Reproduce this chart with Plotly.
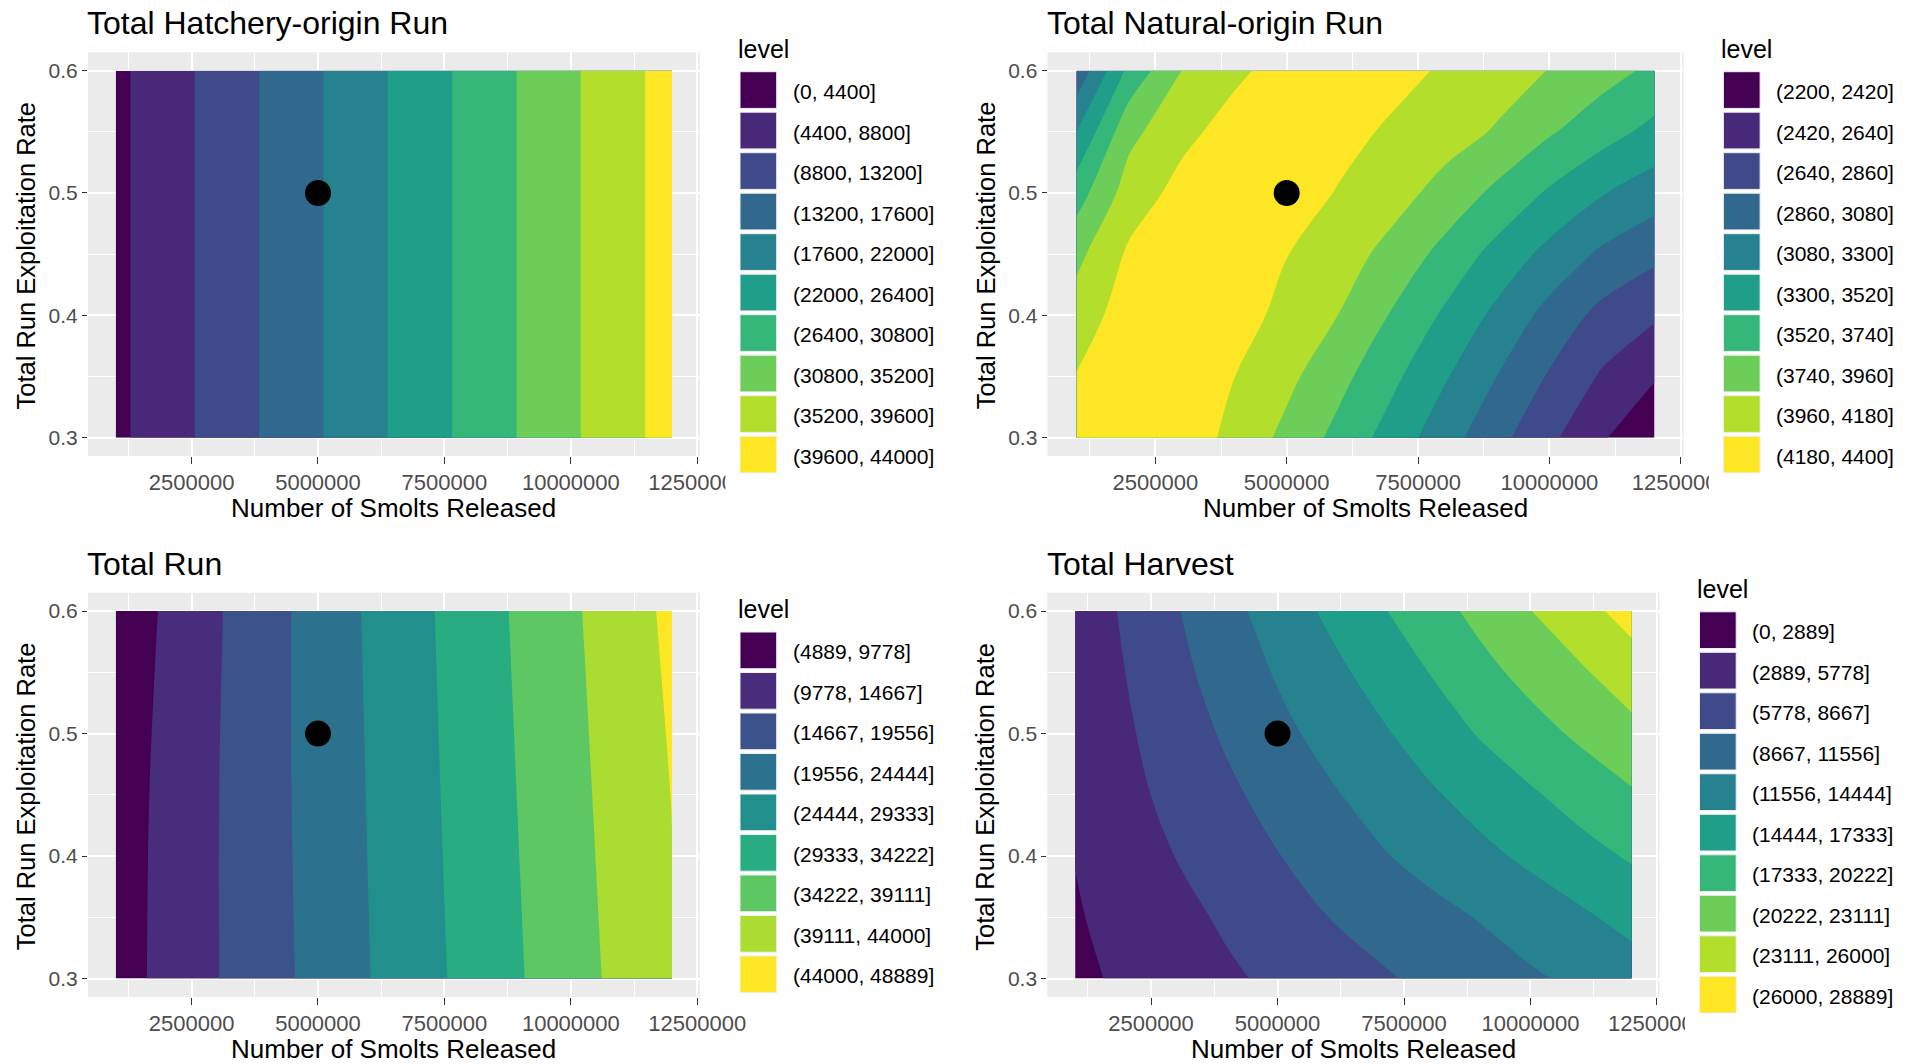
import plotly.graph_objects as go

W, H = 1917, 1064
FONT = "Liberation Sans, Arial, sans-serif"

# ---------------- data ----------------
smolts = [1000000, 2000000, 3000000, 4000000, 5000000, 6000000,
          7000000, 8000000, 9000000, 10000000, 11000000, 12000000]

rates_hatch = [0.30, 0.60]
rates_total = [0.30, 0.45, 0.60]
rates7 = [0.30, 0.35, 0.40, 0.45, 0.50, 0.55, 0.60]

# Total hatchery-origin run (rows = exploitation rate, cols = smolts released)
hatch_z = [
    [3400, 6860, 10310, 13770, 17230, 20690, 24150, 27600, 31060, 34520, 37980, 41430],
    [3400, 6860, 10310, 13770, 17230, 20690, 24150, 27600, 31060, 34520, 37980, 41430],
]

# Total natural-origin run
natural_z = [
    [4320, 4385, 4316, 4116, 3902, 3672, 3427, 3175, 2928, 2685, 2446, 2215],
    [4190, 4364, 4362, 4183, 4015, 3803, 3571, 3323, 3080, 2839, 2615, 2440],
    [4060, 4290, 4370, 4288, 4108, 3956, 3723, 3489, 3247, 3008, 2795, 2670],
    [3902, 4215, 4343, 4336, 4186, 4053, 3895, 3671, 3449, 3233, 3042, 2910],
    [3640, 4062, 4250, 4323, 4292, 4164, 4041, 3890, 3689, 3491, 3313, 3180],
    [3300, 3898, 4123, 4262, 4303, 4256, 4145, 4047, 3941, 3763, 3608, 3456],
    [2915, 3579, 3960, 4138, 4262, 4300, 4258, 4152, 4053, 3953, 3824, 3695],
]

# Total run
total_z = [
    [7665, 11091, 14522, 17790, 21050, 24315, 27549, 30761, 33945, 37155, 40364, 43573],
    [7500, 10933, 14516, 17948, 21315, 24632, 27947, 31214, 34453, 37744, 40985, 44100],
    [6596, 10410, 14229, 17862, 21439, 24957, 28299, 31640, 34988, 38361, 41709, 45050],
]

# Total harvest
harvest_z = [
    [2326, 3332, 4339, 5346, 6335, 7310, 8285, 9252, 10213, 11174, 12135, 13094],
    [2655, 3822, 4989, 6180, 7419, 8658, 9667, 10673, 11698, 12849, 14000, 15348],
    [2950, 4470, 5835, 7200, 8565, 9909, 11252, 12500, 13720, 15008, 16397, 17640],
    [3467, 5016, 6565, 8114, 9644, 11163, 12623, 14061, 15518, 16982, 18445, 19902],
    [3572, 5402, 7233, 9046, 10797, 12434, 13983, 15728, 17532, 19143, 20738, 22297],
    [3680, 5799, 7919, 9908, 11808, 13598, 15454, 17372, 19337, 21125, 22769, 24665],
    [3880, 6181, 8482, 10691, 12822, 14906, 16982, 19006, 21027, 23061, 25056, 27050],
]

hatch_breaks = [0, 4400, 8800, 13200, 17600, 22000, 26400, 30800, 35200, 39600, 44000]
natural_breaks = [2200, 2420, 2640, 2860, 3080, 3300, 3520, 3740, 3960, 4180, 4400]
total_breaks = [4889, 9778, 14667, 19556, 24444, 29333, 34222, 39111, 44000, 48889]
harvest_breaks = [0, 2889, 5778, 8667, 11556, 14444, 17333, 20222, 23111, 26000, 28889]

hatch_labels = ["(0, 4400]", "(4400, 8800]", "(8800, 13200]", "(13200, 17600]",
                "(17600, 22000]", "(22000, 26400]", "(26400, 30800]", "(30800, 35200]",
                "(35200, 39600]", "(39600, 44000]"]
natural_labels = ["(2200, 2420]", "(2420, 2640]", "(2640, 2860]", "(2860, 3080]",
                  "(3080, 3300]", "(3300, 3520]", "(3520, 3740]", "(3740, 3960]",
                  "(3960, 4180]", "(4180, 4400]"]
total_labels = ["(4889, 9778]", "(9778, 14667]", "(14667, 19556]", "(19556, 24444]",
                "(24444, 29333]", "(29333, 34222]", "(34222, 39111]", "(39111, 44000]",
                "(44000, 48889]"]
harvest_labels = ["(0, 2889]", "(2889, 5778]", "(5778, 8667]", "(8667, 11556]",
                  "(11556, 14444]", "(14444, 17333]", "(17333, 20222]", "(20222, 23111]",
                  "(23111, 26000]", "(26000, 28889]"]

status_x = [5000000]
status_y = [0.5]

x_tick_vals = [2500000, 5000000, 7500000, 10000000, 12500000]
x_tick_text = ["2500000", "5000000", "7500000", "10000000", "12500000"]
x_minor_vals = [1250000, 3750000, 6250000, 8750000, 11250000]
y_tick_vals = [0.3, 0.4, 0.5, 0.6]
y_tick_text = ["0.3", "0.4", "0.5", "0.6"]
y_minor_vals = [0.35, 0.45, 0.55]

viridis10 = ["#440154", "#482878", "#3E4A89", "#31688E", "#26828E",
             "#1F9E89", "#35B779", "#6DCD59", "#B4DE2C", "#FDE725"]
viridis9 = ["#440154", "#472D7B", "#3B528B", "#2C728E", "#21908C",
            "#27AD81", "#5DC863", "#AADC32", "#FDE725"]


def fx(px):
    return px / W


def fy(py):
    return 1 - py / H


panels = [
    dict(title="Total Hatchery-origin Run", z=hatch_z, y=rates_hatch, breaks=hatch_breaks,
         labels=hatch_labels, colors=viridis10,
         x0=87.9, x1=699.8, top=52.3, bot=456.0, leg_left=740.0, leg_top=71.7, clip=True),
    dict(title="Total Natural-origin Run", z=natural_z, y=rates7, breaks=natural_breaks,
         labels=natural_labels, colors=viridis10,
         x0=1047.6, x1=1683.4, top=52.3, bot=456.0, leg_left=1723.4, leg_top=71.7, clip=True),
    dict(title="Total Run", z=total_z, y=rates_total, breaks=total_breaks,
         labels=total_labels, colors=viridis9,
         x0=87.9, x1=699.8, top=592.7, bot=997.0, leg_left=740.0, leg_top=632.0, clip=False),
    dict(title="Total Harvest", z=harvest_z, y=rates7, breaks=harvest_breaks,
         labels=harvest_labels, colors=viridis10,
         x0=1047.3, x1=1659.5, top=592.7, bot=997.0, leg_left=1699.5, leg_top=611.8, clip=True),
]

KEY = 36.7
PITCH = 40.5

fig = go.Figure()
layout = dict(
    width=W, height=H,
    margin=dict(l=0, r=0, t=0, b=0, pad=0, autoexpand=False),
    paper_bgcolor="white",
    plot_bgcolor="#EBEBEB",
    showlegend=False,
    font=dict(family=FONT, color="black"),
)
annotations = []
shapes = []

for i, p in enumerate(panels):
    sfx = "" if i == 0 else str(i + 1)
    xa, ya = "x" + sfx, "y" + sfx
    n = len(p["colors"])
    br = p["breaks"]
    start, end = br[1], br[-2]
    size = (end - start) / (n - 2)
    cscale = [[k / (n - 1), c] for k, c in enumerate(p["colors"])]

    fig.add_trace(go.Contour(
        x=smolts, y=p["y"], z=p["z"], xaxis=xa, yaxis=ya,
        autocontour=False,
        contours=dict(start=start, end=end, size=size, coloring="fill", showlines=False),
        colorscale=cscale, showscale=False, line=dict(width=0, smoothing=1),
        hoverinfo="skip",
    ))
    fig.add_trace(go.Scatter(
        x=status_x, y=status_y, xaxis=xa, yaxis=ya, mode="markers",
        marker=dict(size=26, color="black", line=dict(width=0)),
        hoverinfo="skip", showlegend=False,
    ))

    layout["xaxis" + sfx] = dict(
        domain=[fx(p["x0"]), fx(p["x1"])], anchor=ya, automargin=False,
        range=[450000, 12550000], tickmode="array",
        tickvals=x_tick_vals, ticktext=x_tick_text,
        ticks="outside", ticklen=7, tickwidth=1, tickcolor="#333333",
        tickfont=dict(family=FONT, size=22, color="#4D4D4D"),
        showgrid=True, gridcolor="white", gridwidth=1.6,
        minor=dict(tickvals=x_minor_vals, showgrid=True, gridcolor="white", gridwidth=0.9),
        zeroline=False, showline=False, fixedrange=True,
    )
    layout["yaxis" + sfx] = dict(
        domain=[fy(p["bot"]), fy(p["top"])], anchor=xa, automargin=False,
        range=[0.285, 0.615], tickmode="array",
        tickvals=y_tick_vals, ticktext=y_tick_text,
        ticks="outside", ticklen=5, tickwidth=1, tickcolor="#333333",
        tickfont=dict(family=FONT, size=21, color="#4D4D4D"),
        showgrid=True, gridcolor="white", gridwidth=1.6,
        minor=dict(tickvals=y_minor_vals, showgrid=True, gridcolor="white", gridwidth=0.9),
        zeroline=False, showline=False, fixedrange=True,
    )

    # panel title (left aligned with the panel)
    title_base = p["top"] - 18.0
    annotations.append(dict(
        text=p["title"], xref="paper", yref="paper",
        x=fx(p["x0"] - 2.5), y=fy(title_base - 0.3465 * 32),
        xanchor="left", yanchor="middle", showarrow=False,
        font=dict(family=FONT, size=32, color="black"),
    ))
    # axis titles
    cx = (p["x0"] + p["x1"]) / 2
    annotations.append(dict(
        text="Number of Smolts Released", xref="paper", yref="paper",
        x=fx(cx), y=fy(p["bot"] + 61.5 - 0.3465 * 26),
        xanchor="center", yanchor="middle", showarrow=False,
        font=dict(family=FONT, size=26, color="black"),
    ))
    cy = (p["top"] + p["bot"]) / 2
    annotations.append(dict(
        text="Total Run Exploitation Rate", xref="paper", yref="paper",
        x=fx(p["x0"] - 62.0), y=fy(cy + 1.5), textangle=-90,
        xanchor="center", yanchor="middle", showarrow=False,
        font=dict(family=FONT, size=25.5, color="black"),
    ))

    # legend background overlapping the last x tick label, as in the original
    if p["clip"]:
        last_bottom = p["leg_top"] + (n - 1) * PITCH + KEY
        shapes.append(dict(type="rect", xref="paper", yref="paper", layer="above",
                           x0=fx(p["leg_left"] - 14.5), x1=fx(p["leg_left"] - 0.5),
                           y0=fy(p["bot"] + 45), y1=fy(p["bot"] + 1),
                           fillcolor="white", line=dict(width=0)))
        shapes.append(dict(type="rect", xref="paper", yref="paper", layer="above",
                           x0=fx(p["leg_left"] - 1), x1=fx(p["leg_left"] + 30),
                           y0=fy(p["bot"] + 45), y1=fy(last_bottom + 1.5),
                           fillcolor="white", line=dict(width=0)))

    # legend
    annotations.append(dict(
        text="level", xref="paper", yref="paper",
        x=fx(p["leg_left"] - 4.5), y=fy(p["leg_top"] - 14.4 - 0.3465 * 25),
        xanchor="left", yanchor="middle", showarrow=False,
        font=dict(family=FONT, size=25, color="black"),
    ))
    for k, (lab, col) in enumerate(zip(p["labels"], p["colors"])):
        t = p["leg_top"] + k * PITCH
        shapes.append(dict(type="rect", xref="paper", yref="paper", layer="above",
                           x0=fx(p["leg_left"]), x1=fx(p["leg_left"] + KEY),
                           y0=fy(t + KEY), y1=fy(t),
                           fillcolor=col, line=dict(width=1, color="#EEEEEE")))
        annotations.append(dict(
            text=lab, xref="paper", yref="paper",
            x=fx(p["leg_left"] + 50.5), y=fy(t + KEY / 2 + 1.5),
            xanchor="left", yanchor="middle", showarrow=False,
            font=dict(family=FONT, size=21, color="black"),
        ))

layout["annotations"] = annotations
layout["shapes"] = shapes
fig.update_layout(**layout)

fig.write_html(
    "out.html",
    include_plotlyjs=True,
    config={"displayModeBar": False, "responsive": False},
    post_script="document.body.style.margin='0';document.body.style.overflow='hidden';",
)
